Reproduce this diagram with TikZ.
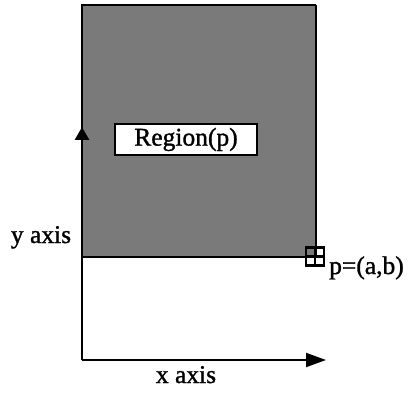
\documentclass[tikz,border=0pt]{standalone}
\usepackage{fontspec}
\setmainfont{Liberation Serif}[FakeBold=1.2]
\usetikzlibrary{arrows.meta}
\begin{document}
\begin{tikzpicture}[x=1pt,y=-1pt,
  lbl/.style={font=\fontsize{25.5}{30}\selectfont, inner sep=0pt},
  axisline/.style={draw=black},
  shade/.style={fill=black!52}]
\useasboundingbox (0,0) rectangle (411,395);
\coordinate (O) at (82,360);
\coordinate (TL) at (82,5);
\coordinate (TR) at (316,5);
\coordinate (P) at (316,257);
\coordinate (BL) at (82,257);
\coordinate (ytip) at (82,127);
\coordinate (xtip) at (326,360);
% shaded region
\fill[shade] (TL) rectangle (P);
\draw[line width=2.2pt] (BL) -- (TL) -- (TR);
\draw[line width=1.2pt] (TR) -- (P);
\draw[line width=2.2pt] (BL) -- (P);
% axes
\draw[axisline, line width=2.8pt, -{Triangle[length=13pt,width=14pt]}] (O) -- (ytip);
\draw[axisline, line width=2pt, -{Triangle[length=20pt,width=14pt]}] (O) -- (xtip);
% label box
\node[draw, fill=white, line width=1.8pt, minimum width=142pt, minimum height=31pt, lbl] (region) at (186,139.5) {Region(p)};
% corner marker
\node[draw, line width=2.2pt, minimum size=18pt, inner sep=0pt] (pmark) at (315,256.5) {};
\draw[line width=2.2pt] (pmark.north) -- (pmark.south);
\draw[line width=2.2pt] (pmark.west) -- (pmark.east);
% texts
\node[lbl, anchor=base west] (plabel) at (329,274) {p=(a,b)};
\node[lbl, anchor=base] (ylabel) at (41,243) {y axis};
\node[lbl, anchor=base] (xlabel) at (186,383) {x axis};
\end{tikzpicture}
\end{document}
